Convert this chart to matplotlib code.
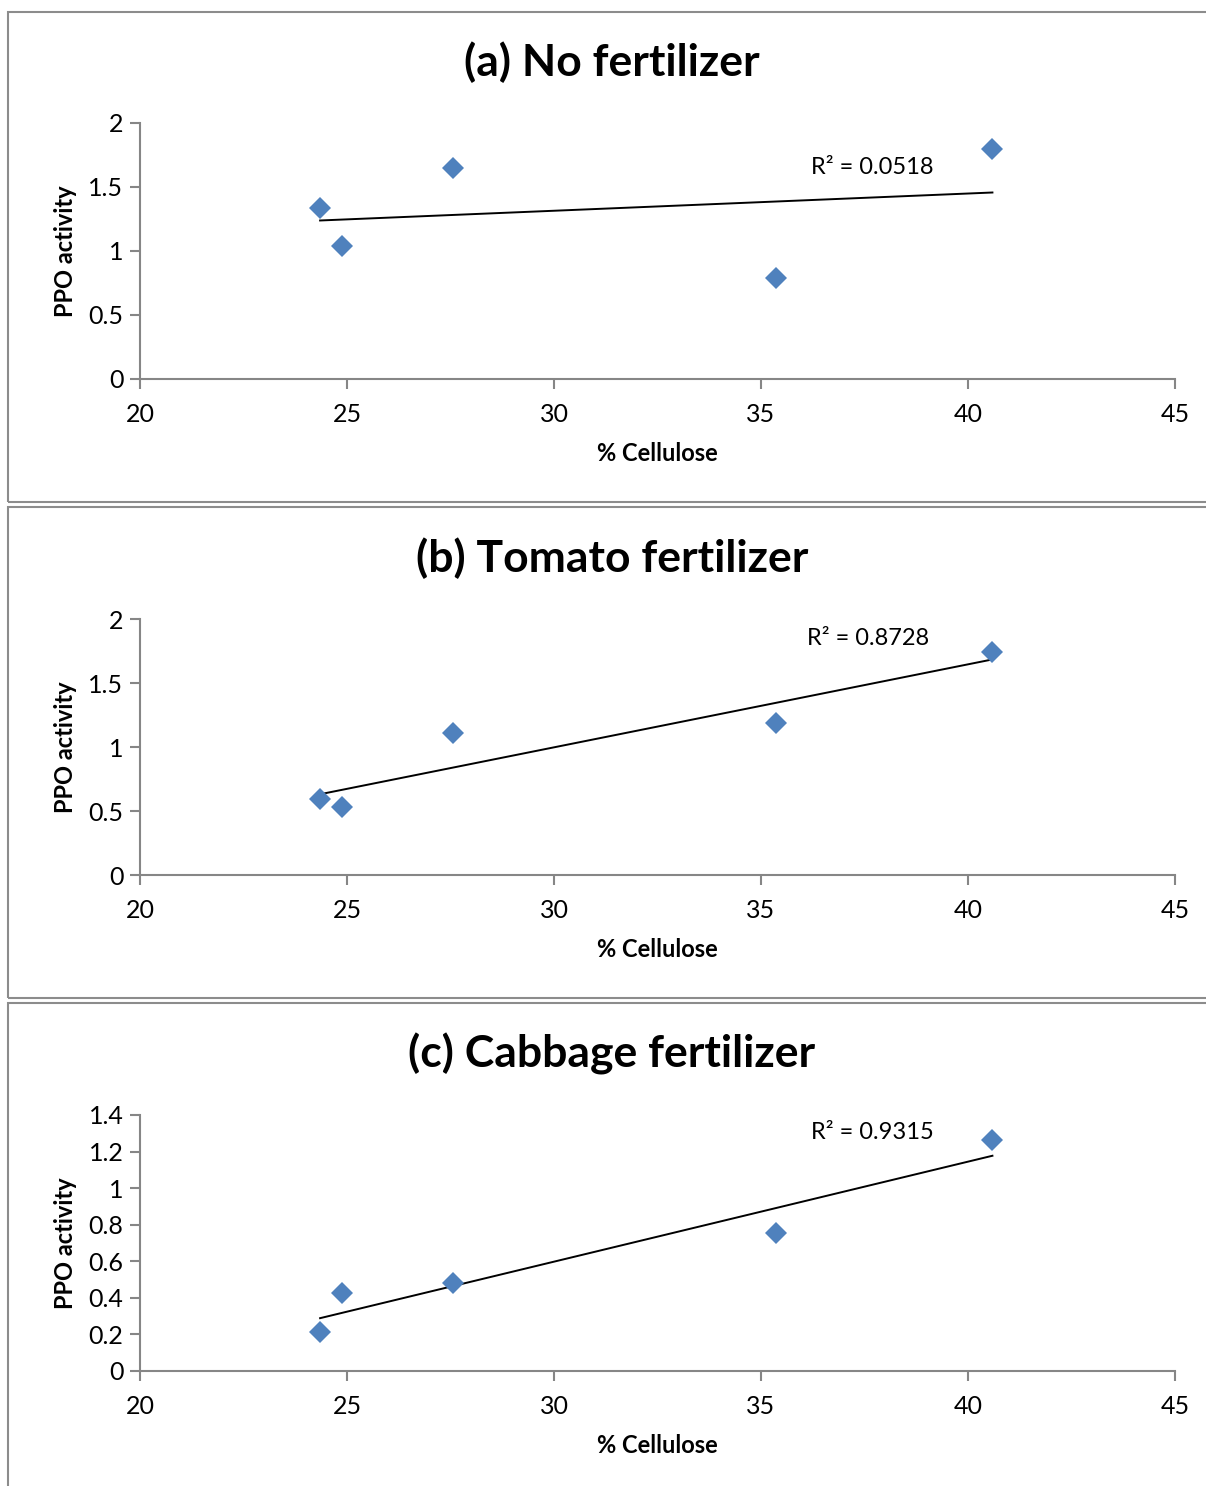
import numpy as np
import matplotlib.pyplot as plt
from matplotlib.patches import Rectangle

plt.rcParams['font.family'] = ['Lato', 'DejaVu Sans']

cellulose = [24.35, 24.87, 27.55, 35.37, 40.59]
ppo_none = [1.336, 1.039, 1.648, 0.789, 1.797]
ppo_tomato = [0.594, 0.531, 1.109, 1.188, 1.742]
ppo_cabbage = [0.213, 0.427, 0.481, 0.755, 1.263]

titles = ['(a) No fertilizer', '(b) Tomato fertilizer', '(c) Cabbage fertilizer']
r2_labels = ['R² = 0.0518', 'R² = 0.8728', 'R² = 0.9315']
r2_xy = [(36.2, 1.6), (36.1, 1.8), (36.2, 1.27)]
y_limits = [(0, 2), (0, 2), (0, 1.4)]
y_ticks = [[0, 0.5, 1, 1.5, 2], [0, 0.5, 1, 1.5, 2],
           [0, 0.2, 0.4, 0.6, 0.8, 1, 1.2, 1.4]]
y_ticklabels = [['0', '0.5', '1', '1.5', '2'], ['0', '0.5', '1', '1.5', '2'],
                ['0', '0.2', '0.4', '0.6', '0.8', '1', '1.2', '1.4']]
x_ticks = [20, 25, 30, 35, 40, 45]

W, H = 1206, 1486
fig = plt.figure(figsize=(W / 100, H / 100), dpi=100)

# panel frames (pixel coords: top, bottom)
frames = [(12, 502), (507, 998), (1003, 1492)]
# axes boxes (pixel coords: top, bottom)
axes_px = [(123, 379), (619, 875), (1115, 1371)]
title_y = [62, 558, 1054]
ax_left, ax_right = 140, 1175

series = [ppo_none, ppo_tomato, ppo_cabbage]
grey = '#868686'

for i in range(3):
    ft, fb = frames[i]
    fig.add_artist(Rectangle((8 / W, 1 - fb / H), (W + 10 - 8) / W, (fb - ft) / H,
                             transform=fig.transFigure, fill=False,
                             edgecolor='#8c8c8c', linewidth=1.5))
    at, ab = axes_px[i]
    ax = fig.add_axes([ax_left / W, 1 - ab / H, (ax_right - ax_left) / W, (ab - at) / H])
    x = np.array(cellulose)
    y = np.array(series[i])
    ax.plot(x, y, 'D', color='#4F81BD', markersize=11, markeredgewidth=0, zorder=3)
    m, b = np.polyfit(x, y, 1)
    xs = np.array([x.min(), x.max()])
    ax.plot(xs, m * xs + b, color='black', linewidth=1.4, zorder=2)
    ax.text(r2_xy[i][0], r2_xy[i][1], r2_labels[i], fontsize=17, color='black')

    ax.set_xlim(20, 45)
    ax.set_ylim(*y_limits[i])
    ax.set_xticks(x_ticks)
    ax.set_yticks(y_ticks[i])
    ax.set_yticklabels(y_ticklabels[i])
    for s in ['top', 'right']:
        ax.spines[s].set_visible(False)
    for s in ['left', 'bottom']:
        ax.spines[s].set_color(grey)
        ax.spines[s].set_linewidth(1.5)
    ax.tick_params(direction='out', length=7, width=1.5, color=grey,
                   labelsize=18, pad=5)
    ax.tick_params(axis='x', pad=10)
    ax.set_xlabel('% Cellulose', fontsize=17, fontweight='bold', labelpad=12)
    ax.set_ylabel('PPO activity', fontsize=17, fontweight='bold', labelpad=8)
    fig.text(612 / W, 1 - title_y[i] / H, titles[i], fontsize=32,
             fontweight='bold', ha='center', va='center')

fig.savefig('out.png', dpi=100)
